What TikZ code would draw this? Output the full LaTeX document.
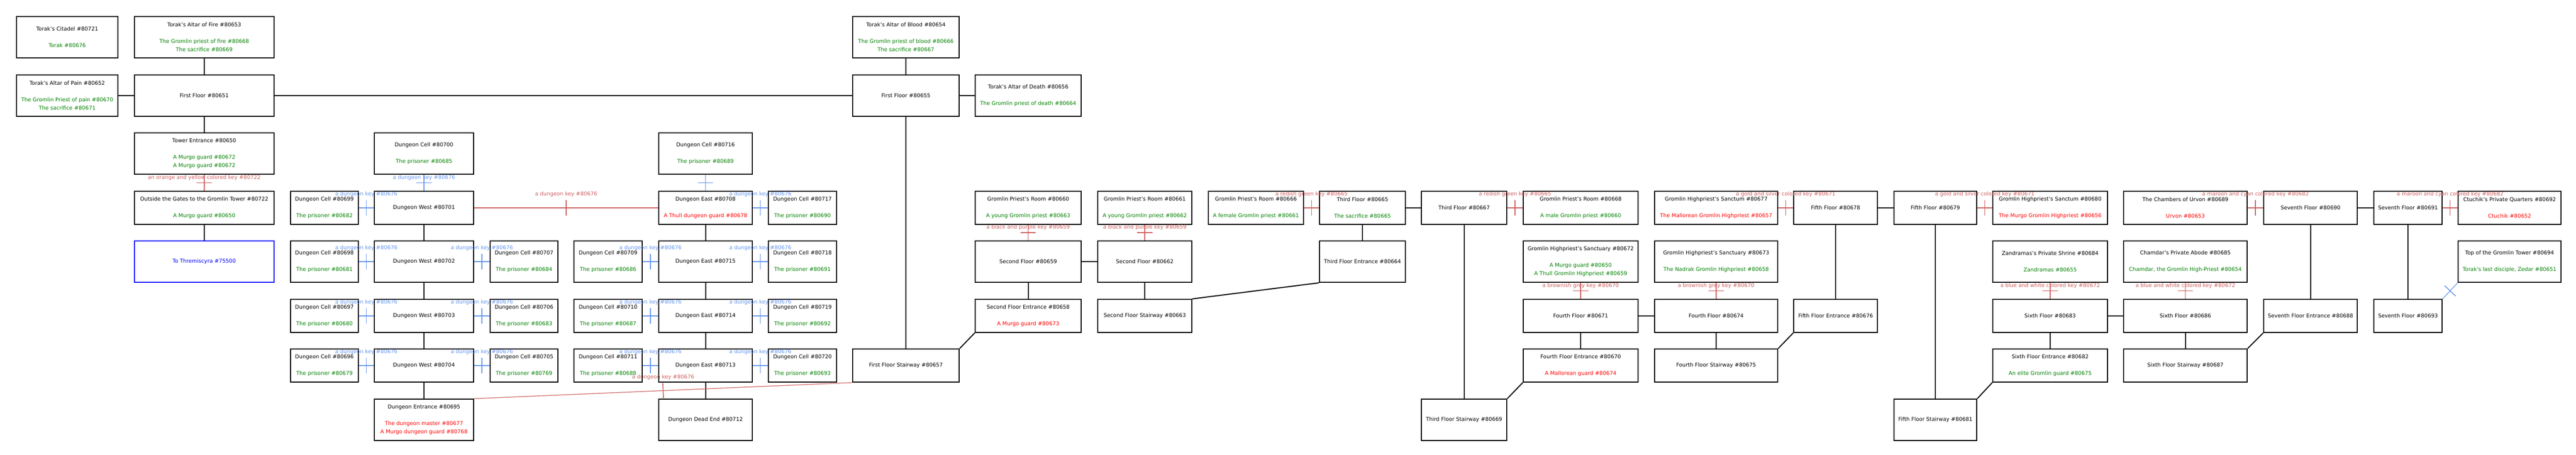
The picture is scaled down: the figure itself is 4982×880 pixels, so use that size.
\documentclass[tikz,border=0pt]{standalone}
\usepackage{fontspec}
\setmainfont{DejaVu Sans}
\usepackage{xcolor}
\usepackage{tikz}
\usetikzlibrary{decorations.markings,calc,shapes}
\usetikzlibrary{positioning}

\definecolor{npcgreen}{RGB}{0,128,0}
\definecolor{npcred}{RGB}{255,0,0}
\definecolor{exitblue}{RGB}{0,0,255}
\definecolor{keyred}{RGB}{205,92,92}
\definecolor{keyblue}{RGB}{100,149,237}

\newcommand{\ally}[1]{\textcolor{npcgreen}{#1}}
\newcommand{\foe}[1]{\textcolor{npcred}{#1}}

\tikzset{
  room/.style={draw, line width=1.5pt, align=center, inner sep=0pt, font=\fontsize{7.7pt}{12pt}\selectfont},
  tall/.style={minimum height=60pt},
  flat/.style={minimum height=48pt},
  exit/.style={room, draw=exitblue, text=exitblue},
  link/.style={line width=1.5pt},
  redkey/.style={draw=keyred, line width=0.9pt, postaction={decorate},
    decoration={markings, mark=at position 0.5 with {\draw[keyred, line width=1.2pt] (0,-11pt) -- (0,11pt);}}},
  bluekey/.style={draw=keyblue, line width=0.9pt, postaction={decorate},
    decoration={markings, mark=at position 0.5 with {\draw[keyblue, line width=1.2pt] (0,-11pt) -- (0,11pt);}}},
  redtag/.style={text=keyred, inner sep=0pt, font=\fontsize{7.7pt}{12pt}\selectfont},
  bluetag/.style={text=keyblue, inner sep=0pt, font=\fontsize{7.7pt}{12pt}\selectfont}
}

\begin{document}
\begin{tikzpicture}[x=0.75pt,y=0.75pt,yscale=-1,xscale=1]
\useasboundingbox (0,0) rectangle (4982,880);

% Room Node
\node [room, tall, minimum width=147pt] (citadel) at (130,72) {Torak's Citadel \#80721\\[12pt]\ally{Torak \#80676}};
% Room Node
\node [room, tall, minimum width=202.5pt] (fire) at (395,72) {Torak's Altar of Fire \#80653\\[12pt]\ally{The Gromlin priest of fire \#80668}\\\ally{The sacrifice \#80669}};
% Room Node
\node [room, tall, minimum width=154.5pt] (blood) at (1752,72) {Torak's Altar of Blood \#80654\\[12pt]\ally{The Gromlin priest of blood \#80666}\\\ally{The sacrifice \#80667}};

% Room Node
\node [room, tall, minimum width=147pt] (pain) at (130,185) {Torak's Altar of Pain \#80652\\[12pt]\ally{The Gromlin Priest of pain \#80670}\\\ally{The sacrifice \#80671}};
% Room Node
\node [room, tall, minimum width=202.5pt] (first651) at (395,185) {First Floor \#80651};
% Room Node
\node [room, tall, minimum width=154.5pt] (first655) at (1752,185) {First Floor \#80655};
% Room Node
\node [room, tall, minimum width=153.75pt] (death) at (1988.5,185) {Torak's Altar of Death \#80656\\[12pt]\ally{The Gromlin priest of death \#80664}};

% Room Node
\node [room, tall, minimum width=202.5pt] (tower) at (395,297) {Tower Entrance \#80650\\[12pt]\ally{A Murgo guard \#80672}\\\ally{A Murgo guard \#80672}};
% Room Node
\node [room, tall, minimum width=144pt] (cell700) at (820,297) {Dungeon Cell \#80700\\[12pt]\ally{The prisoner \#80685}};
% Room Node
\node [room, tall, minimum width=135.75pt] (cell716) at (1364.5,297) {Dungeon Cell \#80716\\[12pt]\ally{The prisoner \#80689}};

% Room Node
\node [room, flat, minimum width=202.5pt] (gates) at (395,402) {Outside the Gates to the Gromlin Tower \#80722\\[12pt]\ally{A Murgo guard \#80650}};
% Room Node
\node [room, flat, minimum width=98.25pt] (cell699) at (627.5,402) {Dungeon Cell \#80699\\[12pt]\ally{The prisoner \#80682}};
% Room Node
\node [room, flat, minimum width=144pt] (west701) at (820,402) {Dungeon West \#80701};
% Room Node
\node [room, flat, minimum width=135.75pt] (east708) at (1364.5,402) {Dungeon East \#80708\\[12pt]\foe{A Thull dungeon guard \#80678}};
% Room Node
\node [room, flat, minimum width=99pt] (cell717) at (1552,402) {Dungeon Cell \#80717\\[12pt]\ally{The prisoner \#80690}};
% Room Node
\node [room, flat, minimum width=153.75pt] (room660) at (1988.5,402) {Gromlin Priest's Room \#80660\\[12pt]\ally{A young Gromlin priest \#80663}};
% Room Node
\node [room, flat, minimum width=136.5pt] (room661) at (2214,402) {Gromlin Priest's Room \#80661\\[12pt]\ally{A young Gromlin priest \#80662}};
% Room Node
\node [room, flat, minimum width=138pt] (room666) at (2429,402) {Gromlin Priest's Room \#80666\\[12pt]\ally{A female Gromlin priest \#80661}};
% Room Node
\node [room, flat, minimum width=124.5pt] (third665) at (2635,402) {Third Floor \#80665\\[12pt]\ally{The sacrifice \#80665}};
% Room Node
\node [room, flat, minimum width=123.75pt] (third667) at (2831.5,402) {Third Floor \#80667};
% Room Node
\node [room, flat, minimum width=166.5pt] (room668) at (3057,402) {Gromlin Priest's Room \#80668\\[12pt]\ally{A male Gromlin priest \#80660}};
% Room Node
\node [room, flat, minimum width=178.5pt] (sanctum677) at (3319,402) {Gromlin Highpriest's Sanctum \#80677\\[12pt]\foe{The Mallorean Gromlin Highpriest \#80657}};
% Room Node
\node [room, flat, minimum width=121.5pt] (fifth678) at (3550,402) {Fifth Floor \#80678};
% Room Node
\node [room, flat, minimum width=120pt] (fifth679) at (3743,402) {Fifth Floor \#80679};
% Room Node
\node [room, flat, minimum width=166.5pt] (sanctum680) at (3965,402) {Gromlin Highpriest's Sanctum \#80680\\[12pt]\foe{The Murgo Gromlin Highpriest \#80656}};
% Room Node
\node [room, flat, minimum width=179.25pt] (urvon689) at (4226.5,402) {The Chambers of Urvon \#80689\\[12pt]\foe{Urvon \#80653}};
% Room Node
\node [room, flat, minimum width=135.75pt] (seventh690) at (4468.5,402) {Seventh Floor \#80690};
% Room Node
\node [room, flat, minimum width=99pt] (seventh691) at (4657,402) {Seventh Floor \#80691};
% Room Node
\node [room, flat, minimum width=149.25pt] (ctuchik692) at (4853.5,402) {Ctuchik's Private Quarters \#80692\\[12pt]\foe{Ctuchik \#80652}};

% Exit Node
\node [exit, tall, minimum width=202.5pt] (threm) at (395,506) {To Thremiscyra \#75500};
% Room Node
\node [room, tall, minimum width=98.25pt] (cell698) at (627.5,506) {Dungeon Cell \#80698\\[12pt]\ally{The prisoner \#80681}};
% Room Node
\node [room, tall, minimum width=144pt] (west702) at (820,506) {Dungeon West \#80702};
% Room Node
\node [room, tall, minimum width=98.25pt] (cell707) at (1013.5,506) {Dungeon Cell \#80707\\[12pt]\ally{The prisoner \#80684}};
% Room Node
\node [room, tall, minimum width=99pt] (cell709) at (1176,506) {Dungeon Cell \#80709\\[12pt]\ally{The prisoner \#80686}};
% Room Node
\node [room, tall, minimum width=135.75pt] (east715) at (1364.5,506) {Dungeon East \#80715};
% Room Node
\node [room, tall, minimum width=99pt] (cell718) at (1552,506) {Dungeon Cell \#80718\\[12pt]\ally{The prisoner \#80691}};
% Room Node
\node [room, tall, minimum width=153.75pt] (second659) at (1988.5,506) {Second Floor \#80659};
% Room Node
\node [room, tall, minimum width=136.5pt] (second662) at (2214,506) {Second Floor \#80662};
% Room Node
\node [room, tall, minimum width=124.5pt] (thirdgate664) at (2635,506) {Third Floor Entrance \#80664};
% Room Node
\node [room, tall, minimum width=166.5pt] (sanct672) at (3057,506) {Gromlin Highpriest's Sanctuary \#80672\\[12pt]\ally{A Murgo guard \#80650}\\\ally{A Thull Gromlin Highpriest \#80659}};
% Room Node
\node [room, tall, minimum width=178.5pt] (sanct673) at (3319,506) {Gromlin Highpriest's Sanctuary \#80673\\[12pt]\ally{The Nadrak Gromlin Highpriest \#80658}};
% Room Node
\node [room, tall, minimum width=166.5pt] (shrine684) at (3965,506) {Zandramas's Private Shrine \#80684\\[12pt]\ally{Zandramas \#80655}};
% Room Node
\node [room, tall, minimum width=179.25pt] (abode685) at (4226.5,506) {Chamdar's Private Abode \#80685\\[12pt]\ally{Chamdar, the Gromlin High-Priest \#80654}};
% Room Node
\node [room, tall, minimum width=149.25pt] (top694) at (4853.5,506) {Top of the Gromlin Tower \#80694\\[12pt]\ally{Torak's last disciple, Zedar \#80651}};

% Room Node
\node [room, flat, minimum width=98.25pt] (cell697) at (627.5,611) {Dungeon Cell \#80697\\[12pt]\ally{The prisoner \#80680}};
% Room Node
\node [room, flat, minimum width=144pt] (west703) at (820,611) {Dungeon West \#80703};
% Room Node
\node [room, flat, minimum width=98.25pt] (cell706) at (1013.5,611) {Dungeon Cell \#80706\\[12pt]\ally{The prisoner \#80683}};
% Room Node
\node [room, flat, minimum width=99pt] (cell710) at (1176,611) {Dungeon Cell \#80710\\[12pt]\ally{The prisoner \#80687}};
% Room Node
\node [room, flat, minimum width=135.75pt] (east714) at (1364.5,611) {Dungeon East \#80714};
% Room Node
\node [room, flat, minimum width=99pt] (cell719) at (1552,611) {Dungeon Cell \#80719\\[12pt]\ally{The prisoner \#80692}};
% Room Node
\node [room, flat, minimum width=153.75pt] (secondgate658) at (1988.5,611) {Second Floor Entrance \#80658\\[12pt]\foe{A Murgo guard \#80673}};
% Room Node
\node [room, flat, minimum width=136.5pt] (secondstair663) at (2214,611) {Second Floor Stairway \#80663};
% Room Node
\node [room, flat, minimum width=166.5pt] (fourth671) at (3057,611) {Fourth Floor \#80671};
% Room Node
\node [room, flat, minimum width=178.5pt] (fourth674) at (3319,611) {Fourth Floor \#80674};
% Room Node
\node [room, flat, minimum width=121.5pt] (fifthgate676) at (3550,611) {Fifth Floor Entrance \#80676};
% Room Node
\node [room, flat, minimum width=166.5pt] (sixth683) at (3965,611) {Sixth Floor \#80683};
% Room Node
\node [room, flat, minimum width=179.25pt] (sixth686) at (4226.5,611) {Sixth Floor \#80686};
% Room Node
\node [room, flat, minimum width=135.75pt] (seventhgate688) at (4468.5,611) {Seventh Floor Entrance \#80688};
% Room Node
\node [room, flat, minimum width=99pt] (seventh693) at (4657,611) {Seventh Floor \#80693};

% Room Node
\node [room, flat, minimum width=98.25pt] (cell696) at (627.5,707) {Dungeon Cell \#80696\\[12pt]\ally{The prisoner \#80679}};
% Room Node
\node [room, flat, minimum width=144pt] (west704) at (820,707) {Dungeon West \#80704};
% Room Node
\node [room, flat, minimum width=98.25pt] (cell705) at (1013.5,707) {Dungeon Cell \#80705\\[12pt]\ally{The prisoner \#80769}};
% Room Node
\node [room, flat, minimum width=99pt] (cell711) at (1176,707) {Dungeon Cell \#80711\\[12pt]\ally{The prisoner \#80688}};
% Room Node
\node [room, flat, minimum width=135.75pt] (east713) at (1364.5,707) {Dungeon East \#80713};
% Room Node
\node [room, flat, minimum width=99pt] (cell720) at (1552,707) {Dungeon Cell \#80720\\[12pt]\ally{The prisoner \#80693}};
% Room Node
\node [room, flat, minimum width=154.5pt] (firststair657) at (1752,707) {First Floor Stairway \#80657};
% Room Node
\node [room, flat, minimum width=166.5pt] (fourthgate670) at (3057,707) {Fourth Floor Entrance \#80670\\[12pt]\foe{A Mallorean guard \#80674}};
% Room Node
\node [room, flat, minimum width=178.5pt] (fourthstair675) at (3319,707) {Fourth Floor Stairway \#80675};
% Room Node
\node [room, flat, minimum width=166.5pt] (sixthgate682) at (3965,707) {Sixth Floor Entrance \#80682\\[12pt]\ally{An elite Gromlin guard \#80675}};
% Room Node
\node [room, flat, minimum width=179.25pt] (sixthstair687) at (4226.5,707) {Sixth Floor Stairway \#80687};

% Room Node
\node [room, tall, minimum width=144pt] (dungate695) at (820,812) {Dungeon Entrance \#80695\\[12pt]\foe{The dungeon master \#80677}\\\foe{A Murgo dungeon guard \#80768}};
% Room Node
\node [room, tall, minimum width=135.75pt] (deadend712) at (1364.5,812) {Dungeon Dead End \#80712};
% Room Node
\node [room, tall, minimum width=123.75pt] (thirdstair669) at (2831.5,812) {Third Floor Stairway \#80669};
% Room Node
\node [room, tall, minimum width=120pt] (fifthstair681) at (3743,812) {Fifth Floor Stairway \#80681};

%Straight Lines
\draw [link] (pain) -- (first651);
\draw [link] (fire) -- (first651);
\draw [link] (first651) -- (tower);
\draw [link] (gates) -- (threm);
\draw [link] (first651) -- (first655);
\draw [link] (west701) -- (west702);
\draw [link] (west702) -- (west703);
\draw [link] (west703) -- (west704);
\draw [link] (west704) -- (dungate695);
\draw [link] (east708) -- (east715);
\draw [link] (east715) -- (east714);
\draw [link] (east714) -- (east713);
\draw [link] (east713) -- (deadend712);
\draw [link] (blood) -- (first655);
\draw [link] (first655) -- (death);
\draw [link] (first655) -- (firststair657);
\draw [link] (firststair657.north east) -- (secondgate658.south west);
\draw [link] (second659) -- (secondgate658);
\draw [link] (second659) -- (second662);
\draw [link] (second662) -- (secondstair663);
\draw [link] (secondstair663.north east) -- (thirdgate664.south west);
\draw [link] (thirdgate664) -- (third665);
\draw [link] (third665) -- (third667);
\draw [link] (third667) -- (thirdstair669);
\draw [link] (thirdstair669.north east) -- (fourthgate670.south west);
\draw [link] (fourthgate670) -- (fourth671);
\draw [link] (fourth671) -- (fourth674);
\draw [link] (fourth674) -- (fourthstair675);
\draw [link] (fourthstair675.north east) -- (fifthgate676.south west);
\draw [link] (fifthgate676) -- (fifth678);
\draw [link] (fifth678) -- (fifth679);
\draw [link] (fifth679) -- (fifthstair681);
\draw [link] (fifthstair681.north east) -- (sixthgate682.south west);
\draw [link] (sixthgate682) -- (sixth683);
\draw [link] (sixth683) -- (sixth686);
\draw [link] (sixth686) -- (sixthstair687);
\draw [link] (sixthstair687.north east) -- (seventhgate688.south west);
\draw [link] (seventhgate688) -- (seventh690);
\draw [link] (seventh690) -- (seventh691);
\draw [link] (seventh691) -- (seventh693);

%Key Lines (red)
\draw [redkey] (tower) -- (gates) node [redtag, midway, shift={(0,10)}] {an orange and yellow colored key \#80722};
\draw [redkey] (west701) -- (east708) node [redtag, midway, shift={(0,26)}] {a dungeon key \#80676};
\draw [redkey] (dungate695.north east) -- (firststair657.south west) node [redtag, midway, shift={(0,26)}] {a dungeon key \#80676};
\draw [redkey] (room660) -- (second659) node [redtag, midway, shift={(0,10)}] {a black and purple key \#80659};
\draw [redkey] (room661) -- (second662) node [redtag, midway, shift={(0,10)}] {a black and purple key \#80659};
\draw [redkey] (room666) -- (third665) node [redtag, midway, shift={(0,26)}] {a redish green key \#80665};
\draw [redkey] (third667) -- (room668) node [redtag, midway, shift={(0,26)}] {a redish green key \#80665};
\draw [redkey] (sanct672) -- (fourth671) node [redtag, midway, shift={(0,10)}] {a brownish grey key \#80670};
\draw [redkey] (sanct673) -- (fourth674) node [redtag, midway, shift={(0,10)}] {a brownish grey key \#80670};
\draw [redkey] (sanctum677) -- (fifth678) node [redtag, midway, shift={(0,26)}] {a gold and silver colored key \#80671};
\draw [redkey] (fifth679) -- (sanctum680) node [redtag, midway, shift={(0,26)}] {a gold and silver colored key \#80671};
\draw [redkey] (shrine684) -- (sixth683) node [redtag, midway, shift={(0,10)}] {a blue and white colored key \#80672};
\draw [redkey] (abode685) -- (sixth686) node [redtag, midway, shift={(0,10)}] {a blue and white colored key \#80672};
\draw [redkey] (urvon689) -- (seventh690) node [redtag, midway, shift={(0,26)}] {a maroon and cyan colored key \#80682};
\draw [redkey] (seventh691) -- (ctuchik692) node [redtag, midway, shift={(0,26)}] {a maroon and cyan colored key \#80682};

%Key Lines (blue)
\draw [bluekey] (cell700) -- (west701) node [bluetag, midway, shift={(0,10)}] {a dungeon key \#80676};
\draw [bluekey] (cell699) -- (west701) node [bluetag, midway, shift={(0,26)}] {a dungeon key \#80676};
\draw [bluekey] (cell698) -- (west702) node [bluetag, midway, shift={(0,26)}] {a dungeon key \#80676};
\draw [bluekey] (cell697) -- (west703) node [bluetag, midway, shift={(0,26)}] {a dungeon key \#80676};
\draw [bluekey] (cell696) -- (west704) node [bluetag, midway, shift={(0,26)}] {a dungeon key \#80676};
\draw [bluekey] (west702) -- (cell707) node [bluetag, midway, shift={(0,26)}] {a dungeon key \#80676};
\draw [bluekey] (west703) -- (cell706) node [bluetag, midway, shift={(0,26)}] {a dungeon key \#80676};
\draw [bluekey] (west704) -- (cell705) node [bluetag, midway, shift={(0,26)}] {a dungeon key \#80676};
\draw [bluekey] (cell709) -- (east715) node [bluetag, midway, shift={(0,26)}] {a dungeon key \#80676};
\draw [bluekey] (cell710) -- (east714) node [bluetag, midway, shift={(0,26)}] {a dungeon key \#80676};
\draw [bluekey] (cell711) -- (east713) node [bluetag, midway, shift={(0,26)}] {a dungeon key \#80676};
\draw [bluekey] (cell716) -- (east708);
\draw [bluekey] (east708) -- (cell717) node [bluetag, midway, shift={(0,26)}] {a dungeon key \#80676};
\draw [bluekey] (east715) -- (cell718) node [bluetag, midway, shift={(0,26)}] {a dungeon key \#80676};
\draw [bluekey] (east714) -- (cell719) node [bluetag, midway, shift={(0,26)}] {a dungeon key \#80676};
\draw [bluekey] (east713) -- (cell720) node [bluetag, midway, shift={(0,26)}] {a dungeon key \#80676};
\draw [bluekey] (seventh693.north east) -- (top694.south west);

\end{tikzpicture}
\end{document}
